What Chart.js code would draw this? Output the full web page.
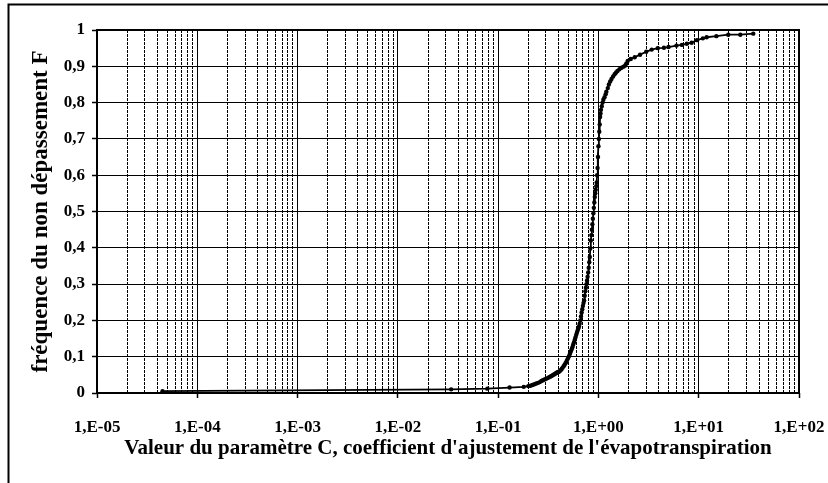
<!DOCTYPE html>
<html>
<head>
<meta charset="utf-8">
<script src="https://cdn.jsdelivr.net/npm/chart.js@4"></script>
<style>
  body { margin: 0; background: #fff; }
</style>
</head>
<body>
<canvas id="freqChart" width="828" height="483"></canvas>
<script>
// valeurs du paramètre C (échelle log) et fréquence de non dépassement
var cValues = [
    4.5e-5, 0.034, 0.078, 0.13, 0.18,
    0.20, 0.21, 0.22, 0.23, 0.24, 0.25, 0.26, 0.27, 0.28, 0.29,
    0.30, 0.31, 0.32, 0.33, 0.34, 0.35, 0.36, 0.37, 0.38, 0.39,
    0.40, 0.41, 0.42, 0.43, 0.44, 0.45, 0.46, 0.47, 0.48, 0.49,
    0.50, 0.51, 0.52, 0.53, 0.54, 0.55, 0.56, 0.57, 0.58, 0.59,
    0.60, 0.61, 0.62, 0.63, 0.64, 0.65, 0.66, 0.67, 0.68, 0.69,
    0.70, 0.71, 0.72, 0.73, 0.74, 0.75, 0.76, 0.77, 0.78, 0.79,
    0.80, 0.81, 0.82, 0.83, 0.84, 0.85, 0.86, 0.87, 0.88, 0.89,
    0.90, 0.91, 0.92, 0.93, 0.94, 0.95, 0.96, 0.97, 0.98, 0.99,
    1.00, 1.01, 1.02, 1.03, 1.04, 1.05, 1.06, 1.08, 1.10, 1.12,
    1.15, 1.18, 1.20, 1.24, 1.27, 1.31, 1.35, 1.40, 1.45, 1.50,
    1.55, 1.62, 1.70, 1.78, 1.85, 1.90, 1.96,
    2.1, 2.3, 2.6, 3.0, 3.4, 3.9, 4.5, 5.0, 6.0, 6.8,
    7.6, 8.5, 9.6, 11, 12, 15, 19.7, 26, 35
];
var fValues = [
    0.005, 0.010, 0.012, 0.015, 0.017,
    0.019, 0.020, 0.022, 0.024, 0.026, 0.028, 0.030, 0.033, 0.035, 0.037,
    0.039, 0.041, 0.043, 0.045, 0.047, 0.049, 0.051, 0.053, 0.055, 0.057,
    0.058, 0.060, 0.063, 0.066, 0.070, 0.074, 0.078, 0.082, 0.087, 0.092,
    0.097, 0.102, 0.108, 0.114, 0.120, 0.126, 0.133, 0.139, 0.146, 0.153,
    0.160, 0.166, 0.172, 0.178, 0.183, 0.191, 0.200, 0.211, 0.222, 0.231,
    0.240, 0.248, 0.255, 0.268, 0.280, 0.290, 0.300, 0.310, 0.320, 0.332,
    0.345, 0.360, 0.375, 0.398, 0.420, 0.435, 0.450, 0.465, 0.480, 0.495,
    0.510, 0.525, 0.540, 0.550, 0.560, 0.570, 0.580, 0.600, 0.620, 0.650,
    0.680, 0.700, 0.720, 0.740, 0.760, 0.770, 0.780, 0.790, 0.800, 0.808,
    0.815, 0.823, 0.830, 0.840, 0.850, 0.858, 0.865, 0.872, 0.878, 0.883,
    0.887, 0.892, 0.896, 0.899, 0.902, 0.908, 0.915,
    0.920, 0.925, 0.932, 0.940, 0.946, 0.950, 0.951, 0.953, 0.957, 0.959,
    0.962, 0.965, 0.972, 0.977, 0.980, 0.983, 0.987, 0.987, 0.990
];

var xMinExp = -5;
var xMaxExp = 2;
var xTitle = "Valeur du paramètre C, coefficient d'ajustement de l'évapotranspiration";
var yTitle = "fréquence du non dépassement F";

var points = cValues.map(function (c, i) { return { x: c, y: fValues[i] }; });

function isDecade(v) {
    var l = Math.log10(v);
    return Math.abs(l - Math.round(l)) < 1e-9;
}

function expLabel(v) {
    var e = Math.round(Math.log10(v));
    var a = Math.abs(e);
    return '1,E' + (e < 0 ? '-' : '+') + (a < 10 ? '0' : '') + a;
}

var serif = "'Liberation Serif', 'Times New Roman', serif";

// cadre extérieur + cadre de la zone de tracé
var frames = {
    id: 'frames',
    beforeDraw: function (chart) {
        var ctx = chart.ctx;
        ctx.save();
        ctx.fillStyle = '#fff';
        ctx.fillRect(0, 0, chart.width, chart.height);
        ctx.strokeStyle = '#000';
        ctx.lineWidth = 2;
        ctx.strokeRect(8.5, 4.5, 900, 900);
        ctx.restore();
    },
    afterDatasetsDraw: function (chart) {
        var a = chart.chartArea;
        var ctx = chart.ctx;
        ctx.save();
        ctx.strokeStyle = '#000';
        ctx.lineWidth = 2;
        ctx.strokeRect(a.left, a.top, a.right - a.left, a.bottom - a.top);
        ctx.restore();
    }
};

new Chart(document.getElementById('freqChart').getContext('2d'), {
    type: 'scatter',
    data: {
        datasets: [{
            data: points,
            showLine: true,
            borderColor: '#000',
            borderWidth: 1.8,
            backgroundColor: '#000',
            pointRadius: 2.2,
            pointHoverRadius: 2.2,
            pointBorderWidth: 0,
            tension: 0
        }]
    },
    options: {
        responsive: false,
        animation: false,
        layout: { padding: { left: 27, right: 29, top: 30, bottom: 0 } },
        plugins: {
            legend: { display: false },
            tooltip: { enabled: false }
        },
        scales: {
            x: {
                type: 'logarithmic',
                min: Math.pow(10, xMinExp),
                max: Math.pow(10, xMaxExp),
                afterBuildTicks: function (scale) {
                    var t = [];
                    for (var e = xMinExp; e < xMaxExp; e++) {
                        for (var m = 1; m <= 9; m++) {
                            t.push({ value: Number(m + 'e' + e) });
                        }
                    }
                    t.push({ value: Number('1e' + xMaxExp) });
                    scale.ticks = t;
                },
                afterFit: function (scale) {
                    scale.height = 90;
                    scale.paddingLeft = 0;
                    scale.paddingRight = 0;
                },
                ticks: {
                    autoSkip: false,
                    maxRotation: 0,
                    padding: 19,
                    color: '#000',
                    font: { family: serif, size: 17, weight: 'bold' },
                    callback: function (v) { return isDecade(v) ? expLabel(v) : ''; }
                },
                grid: {
                    color: '#000',
                    lineWidth: 1,
                    tickLength: 5,
                    tickWidth: 1.5,
                    tickColor: function (c) {
                        return (c.tick && isDecade(c.tick.value)) ? '#000' : 'rgba(0,0,0,0)';
                    }
                },
                border: {
                    display: false,
                    dash: function (c) {
                        return (c.tick && !isDecade(c.tick.value)) ? [3, 1] : [];
                    }
                },
                title: {
                    display: true,
                    text: xTitle,
                    color: '#000',
                    font: { family: serif, size: 21, weight: 'bold' },
                    padding: { top: 4, bottom: 22 }
                }
            },
            y: {
                min: 0,
                max: 1,
                afterFit: function (scale) {
                    scale.width = 70;
                    scale.paddingTop = 0;
                    scale.paddingBottom = 0;
                },
                ticks: {
                    stepSize: 0.1,
                    padding: 7,
                    color: '#000',
                    font: { family: serif, size: 17, weight: 'bold' },
                    callback: function (v) {
                        if (v === 0) return '0';
                        if (Math.abs(v - 1) < 1e-9) return '1';
                        return v.toFixed(1).replace('.', ',');
                    }
                },
                grid: {
                    color: '#000',
                    lineWidth: 1,
                    tickLength: 5,
                    tickWidth: 1.5,
                    tickColor: '#000'
                },
                border: { display: false },
                title: {
                    display: true,
                    text: yTitle,
                    color: '#000',
                    font: { family: serif, size: 23, weight: 'bold' },
                    padding: { top: 0, bottom: 0 }
                }
            }
        }
    },
    plugins: [frames]
});
</script>
</body>
</html>
